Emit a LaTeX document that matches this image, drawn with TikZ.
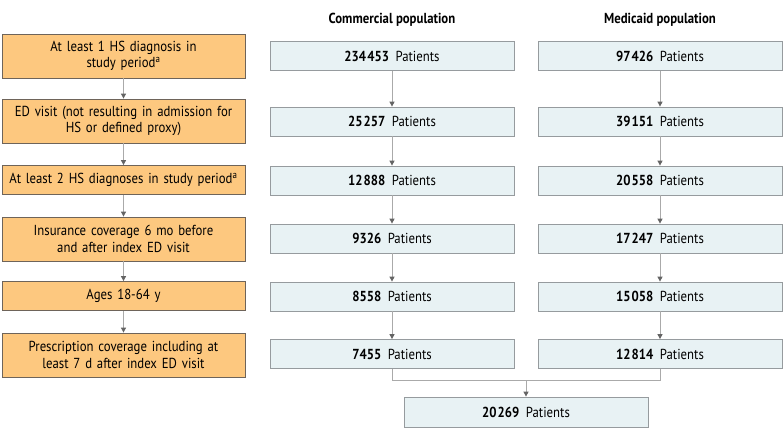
\documentclass[tikz,border=0pt]{standalone}
\usepackage{fontspec}
\setmainfont{PT Sans}[FakeStretch=0.88]
\usetikzlibrary{arrows.meta}
\definecolor{orfill}{RGB}{253,200,127}
\definecolor{ordraw}{RGB}{110,100,90}
\definecolor{blfill}{RGB}{232,242,244}
\definecolor{bldraw}{RGB}{150,155,158}
\definecolor{lnc}{RGB}{170,170,170}
\definecolor{tipc}{RGB}{100,100,100}
\tikzset{
  crit/.style={draw=ordraw,fill=orfill,line width=0.8pt,minimum width=243pt,text width=240pt,align=center,inner sep=1pt,font=\fontsize{14.5}{16.5}\selectfont},
  pbox/.style={draw=bldraw,fill=blfill,line width=0.8pt,minimum width=244pt,minimum height=29pt,inner sep=1pt,font=\fontsize{14.5}{16.5}\selectfont},
  hdr/.style={font=\fontsize{14.5}{16.5}\selectfont\bfseries},
  conn/.style={draw=lnc,line width=1pt,-{Triangle[length=5pt,width=5pt,color=tipc]}},
  plain/.style={draw=lnc,line width=1pt}
}
\newcommand{\pat}[1]{\textbf{#1}\hspace{0.45em}Patients}
\newcommand{\tsp}{\hspace{0.08em}}
\begin{document}
\begin{tikzpicture}[x=1pt,y=-1pt]
\useasboundingbox (0,0) rectangle (783,438);
% left criteria
\node[crit,minimum height=44pt] (c1) at (123.5,56) {At least 1 HS diagnosis in\\study period\textsuperscript{a}};
\node[crit,minimum height=44pt] (c2) at (123.5,121) {ED visit (not resulting in admission for\\HS or defined proxy)};
\node[crit,minimum height=29pt] (c3) at (123.5,180) {At least 2 HS diagnoses in study period\textsuperscript{a}};
\node[crit,minimum height=44pt] (c4) at (123.5,239) {Insurance coverage 6 mo before\\and after index ED visit};
\node[crit,minimum height=29pt] (c5) at (123.5,296) {Ages 18-64 y};
\node[crit,minimum height=44pt] (c6) at (123.5,355) {Prescription coverage including at\\least 7 d after index ED visit};
\foreach \a/\b in {c1/c2,c2/c3,c3/c4,c4/c5,c5/c6} \draw[conn] (\a) -- (\b);
% headers
\node[hdr] (h1) at (392,20) {Commercial population};
\node[hdr] (h2) at (660,20) {Medicaid population};
% commercial
\node[pbox] (a1) at (392,56) {\pat{234\tsp453}};
\node[pbox] (a2) at (392,121.5) {\pat{25\tsp257}};
\node[pbox] (a3) at (392,180.5) {\pat{12\tsp888}};
\node[pbox] (a4) at (392,238.5) {\pat{9326}};
\node[pbox] (a5) at (392,296.5) {\pat{8558}};
\node[pbox] (a6) at (392,354) {\pat{7455}};
% medicaid
\node[pbox] (b1) at (660,56) {\pat{97\tsp426}};
\node[pbox] (b2) at (660,121.5) {\pat{39\tsp151}};
\node[pbox] (b3) at (660,180.5) {\pat{20\tsp558}};
\node[pbox] (b4) at (660,238.5) {\pat{17\tsp247}};
\node[pbox] (b5) at (660,296.5) {\pat{15\tsp058}};
\node[pbox] (b6) at (660,354) {\pat{12\tsp814}};
\foreach \a/\b in {a1/a2,a2/a3,a3/a4,a4/a5,a5/a6,b1/b2,b2/b3,b3/b4,b4/b5,b5/b6} \draw[conn] (\a) -- (\b);
% final
\node[pbox,minimum height=30pt] (f) at (526,412) {\pat{20\tsp269}};
\coordinate (m1) at (392,380);
\coordinate (m2) at (660,380);
\coordinate (mm) at (526,380);
\draw[plain] (a6.south) -- (m1) -- (m2) -- (b6.south);
\draw[conn] (mm) -- (f);
\end{tikzpicture}
\end{document}
